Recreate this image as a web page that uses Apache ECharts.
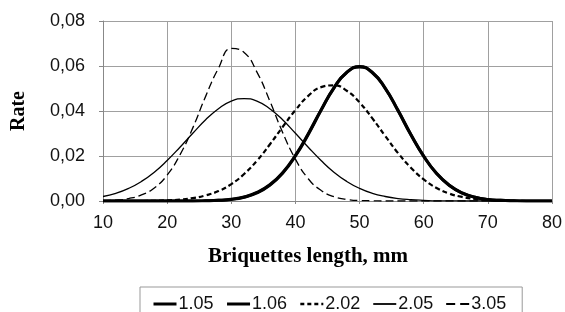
<!DOCTYPE html>
<html>
<head>
<meta charset="utf-8">
<script src="https://cdn.jsdelivr.net/npm/echarts@6/dist/echarts.min.js"></script>
<style>
  html, body { margin: 0; padding: 0; background: #fff; }
  #chart { width: 565px; height: 312px; }
</style>
</head>
<body>
<div id="chart"></div>
<script>
// briquettes length, mm (step 2)
const lengths = [10, 12, 14, 16, 18, 20, 22, 24, 26, 28, 30, 32, 34, 36, 38, 40, 42, 44,
                 46, 48, 50, 52, 54, 56, 58, 60, 62, 64, 66, 68, 70, 72, 74, 76, 78, 80];

const s105 = [0, 0, 0, 0, 0, 0, 0, 0, 0.0001, 0.0003, 0.0007, 0.0017, 0.0036, 0.0070, 0.0123, 0.0200, 0.0296, 0.0403,
              0.0502, 0.0572, 0.0598, 0.0572, 0.0502, 0.0403, 0.0296, 0.0200, 0.0123, 0.0070, 0.0036, 0.0017, 0.0007, 0.0003, 0.0001, 0, 0, 0];
const s106 = [0, 0, 0, 0, 0, 0, 0, 0, 0.0001, 0.0003, 0.0008, 0.0018, 0.0038, 0.0072, 0.0126, 0.0203, 0.0299, 0.0405,
              0.0503, 0.0571, 0.0596, 0.0570, 0.0500, 0.0401, 0.0294, 0.0198, 0.0122, 0.0069, 0.0035, 0.0017, 0.0007, 0.0003, 0.0001, 0, 0, 0];
const s202 = [0, 0, 0, 0, 0.0001, 0.0003, 0.0006, 0.0013, 0.0025, 0.0044, 0.0075, 0.0120, 0.0179, 0.0251, 0.0329, 0.0404, 0.0467, 0.0506,
              0.0514, 0.0490, 0.0438, 0.0367, 0.0289, 0.0213, 0.0148, 0.0096, 0.0058, 0.0033, 0.0018, 0.0009, 0.0004, 0.0002, 0.0001, 0, 0, 0];
const s205 = [0.0020, 0.0034, 0.0056, 0.0087, 0.0128, 0.0180, 0.0239, 0.0301, 0.0361, 0.0410, 0.0444, 0.0455, 0.0444, 0.0410, 0.0361, 0.0301, 0.0239, 0.0180,
              0.0128, 0.0087, 0.0056, 0.0034, 0.0020, 0.0011, 0.0006, 0.0003, 0.0001, 0.0001, 0, 0, 0, 0, 0, 0, 0, 0];
const s305 = [0.0002, 0.0004, 0.0011, 0.0027, 0.0058, 0.0115, 0.0205, 0.0325, 0.0465, 0.0590, 0.0678, 0.0660, 0.0573, 0.0445, 0.0305, 0.0186, 0.0099, 0.0047,
              0.0019, 0.0007, 0.0002, 0.0001, 0, 0, 0, 0, 0, 0, 0, 0, 0, 0, 0, 0, 0, 0];

const pairs = arr => lengths.map((x, i) => [x, arr[i]]);

const chart = echarts.init(document.getElementById('chart'));

const mkSeries = (name, data, width, dash) => ({
    name: name,
    type: 'line',
    smooth: true,
    symbol: 'none',
    data: pairs(data),
    itemStyle: { color: '#000' },
    lineStyle: { color: '#000', width: width, type: dash }
});

chart.setOption({
    animation: false,
    color: ['#000'],
    textStyle: { fontFamily: '"Liberation Sans", Arial, sans-serif' },
    title: {
        text: 'Briquettes length, mm',
        left: 203,
        top: 241,
        textStyle: { fontFamily: '"Liberation Serif", serif', fontWeight: 'bold', fontSize: 21, color: '#000' }
    },
    grid: { left: 103, right: 12, top: 21, bottom: 111 },
    legend: {
        left: 140,
        top: 287,
        padding: [8, 16, 12, 12],
        borderColor: '#999',
        borderWidth: 1,
        itemWidth: 23,
        itemHeight: 14,
        itemGap: 12,
        itemStyle: { opacity: 0 },
        textStyle: { fontSize: 18, color: '#111', padding: [0, 0, 0, -3] },
        data: [
            { name: '1.05', lineStyle: { width: 3, type: 'solid' } },
            { name: '1.06', lineStyle: { width: 3, type: 'solid' } },
            { name: '2.02', lineStyle: { width: 2.5, type: [4, 3] } },
            { name: '2.05', lineStyle: { width: 1.8, type: 'solid' } },
            { name: '3.05', lineStyle: { width: 1.8, type: [9, 5] } }
        ]
    },
    xAxis: {
        type: 'value',
        min: 10,
        max: 80,
        interval: 10,
        axisLine: { lineStyle: { color: '#888' } },
        axisTick: { show: true, length: 3, lineStyle: { color: '#888' } },
        axisLabel: { fontSize: 18, color: '#111', margin: 13 },
        splitLine: { lineStyle: { color: '#a0a0a0' } }
    },
    yAxis: {
        type: 'value',
        min: 0,
        max: 0.08,
        interval: 0.02,
        name: 'Rate',
        nameLocation: 'middle',
        nameGap: 74,
        nameTextStyle: { fontFamily: '"Liberation Serif", serif', fontWeight: 'bold', fontSize: 20, color: '#000' },
        axisLine: { show: true, lineStyle: { color: '#888' } },
        axisTick: { show: true, length: 4, lineStyle: { color: '#888' } },
        axisLabel: { fontSize: 18, color: '#111', margin: 18, formatter: v => v.toFixed(2).replace('.', ',') },
        splitLine: { lineStyle: { color: '#a0a0a0' } }
    },
    series: [
        mkSeries('1.05', s105, 3, 'solid'),
        mkSeries('1.06', s106, 3, 'solid'),
        mkSeries('2.02', s202, 2.2, [5, 3]),
        mkSeries('2.05', s205, 1.3, 'solid'),
        mkSeries('3.05', s305, 1.3, [8, 4])
    ]
});
</script>
</body>
</html>
